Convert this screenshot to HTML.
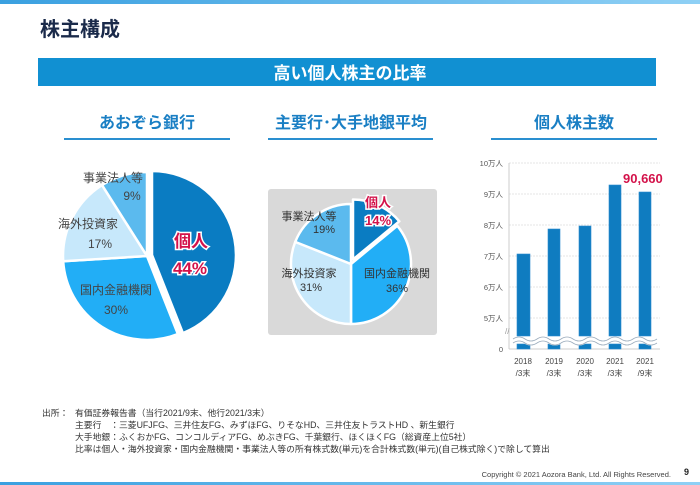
<!DOCTYPE html>
<html><head><meta charset="utf-8"><style>
body{margin:0;width:700px;height:485px;overflow:hidden;background:#fff}
svg{display:block}
text{font-family:"Liberation Sans","Noto Sans CJK JP",sans-serif}
</style></head><body>
<svg width="700" height="485" viewBox="0 0 700 485">
<defs><linearGradient id="tg" x1="0" x2="1"><stop offset="0" stop-color="#3aa0e0"/><stop offset="1" stop-color="#8fd0f5"/></linearGradient></defs>
<rect x="0" y="0" width="700" height="4" fill="url(#tg)"/>
<rect x="0" y="482" width="700" height="3" fill="url(#tg)"/>
<text x="40" y="36" font-size="20" font-weight="bold" fill="#1a2a4a">株主構成</text>
<rect x="38" y="58" width="618" height="28" fill="#1190d2"/>
<text x="350" y="79" font-size="17" font-weight="bold" fill="#fff" text-anchor="middle">高い個人株主の比率</text>
<g font-size="16" font-weight="bold" fill="#1a7fc4" text-anchor="middle">
<text x="147" y="128">あおぞら銀行</text><text x="351" y="128">主要行･大手地銀平均</text><text x="574" y="128">個人株主数</text></g>
<g fill="#2a8fd0"><rect x="64" y="138" width="166" height="2"/><rect x="268" y="138" width="165" height="2"/><rect x="491" y="138" width="166" height="2"/></g>
<!-- pie1 -->
<g stroke="#fff" stroke-width="2.5" stroke-linejoin="round">
<path d="M152,255 L152,171 A84,84 0 0 1 182.9,333.1 Z" fill="#0a7cc2"/>
<path d="M147,256 L177.9,334.1 A84,84 0 0 1 63.2,261.3 Z" fill="#22aef6"/>
<path d="M147,256 L63.2,261.3 A84,84 0 0 1 102,185.1 Z" fill="#c7e8fb"/>
<path d="M147,256 L102,185.1 A84,84 0 0 1 147,172 Z" fill="#5bbaee"/>
</g>
<g font-size="12" fill="#444" text-anchor="middle">
<text x="113" y="182">事業法人等</text><text x="132" y="200">9%</text>
<text x="88" y="228">海外投資家</text><text x="100" y="248">17%</text>
<text x="116" y="294">国内金融機関</text><text x="116" y="314">30%</text></g>
<g font-size="17" font-weight="bold" fill="#d3124a" stroke="#fff" stroke-width="3" paint-order="stroke" text-anchor="middle">
<text x="191" y="247">個人</text><text x="190" y="274">44%</text></g>
<!-- pie2 -->
<rect x="268" y="189" width="169" height="146" rx="3" fill="#d9d9d9"/>
<g stroke="#fff" stroke-width="2.5" stroke-linejoin="round">
<path d="M351,264 L397.3,225.8 A60,60 0 0 1 351,324 Z" fill="#22aef6"/>
<path d="M351,264 L351,324 A60,60 0 0 1 295.2,241.9 Z" fill="#c7e8fb"/>
<path d="M351,264 L295.2,241.9 A60,60 0 0 1 351,204 Z" fill="#5bbaee"/>
<path d="M353,259.5 L353,199.5 A60,60 0 0 1 399.3,221.3 Z" fill="#0a7cc2"/>
</g>
<g font-size="11" fill="#333" text-anchor="middle">
<text x="309" y="220">事業法人等</text><text x="324" y="233">19%</text>
<text x="309" y="277">海外投資家</text><text x="311" y="291">31%</text>
<text x="397" y="277">国内金融機関</text><text x="397" y="292">36%</text></g>
<g font-size="13" font-weight="bold" fill="#d3124a" stroke="#fff" stroke-width="3" paint-order="stroke" text-anchor="middle">
<text x="378" y="207">個人</text><text x="378" y="225">14%</text></g>
<!-- bar chart -->
<g stroke="#e4e4e4" stroke-width="1" stroke-dasharray="2,1">
<line x1="509" y1="163" x2="660" y2="163"/><line x1="509" y1="194" x2="660" y2="194"/><line x1="509" y1="225" x2="660" y2="225"/><line x1="509" y1="256" x2="660" y2="256"/><line x1="509" y1="287" x2="660" y2="287"/><line x1="509" y1="318" x2="660" y2="318"/></g>
<line x1="509" y1="163" x2="509" y2="349" stroke="#ccc"/>
<line x1="509" y1="349" x2="660" y2="349" stroke="#ccc"/>
<g font-size="7.5" fill="#555" text-anchor="end">
<text x="503" y="166">10万人</text><text x="503" y="197">9万人</text><text x="503" y="228">8万人</text><text x="503" y="259">7万人</text><text x="503" y="290">6万人</text><text x="503" y="321">5万人</text><text x="503" y="352">0</text></g>
<g fill="#0f7cc0" stroke="#2a8ad0" stroke-width="0.6">
<rect x="517" y="254" width="13" height="82"/><rect x="548" y="229" width="12" height="107"/><rect x="579" y="226" width="12" height="110"/><rect x="609" y="185" width="12" height="151"/><rect x="639" y="192" width="12" height="144"/>
<rect x="517" y="344" width="13" height="5"/><rect x="548" y="344" width="12" height="5"/><rect x="579" y="344" width="12" height="5"/><rect x="609" y="344" width="12" height="5"/><rect x="639" y="344" width="12" height="5"/></g>
<path d="M513,341 q6,-4 12,0 t12,0 t12,0 t12,0 t12,0 t12,0 t12,0 t12,0 t12,0 t12,0 t12,0 t12,0" fill="none" stroke="#fff" stroke-width="5"/>
<path d="M513,339 q6,-4 12,0 t12,0 t12,0 t12,0 t12,0 t12,0 t12,0 t12,0 t12,0 t12,0 t12,0 t12,0" fill="none" stroke="#9ab" stroke-width="0.8"/>
<path d="M513,343 q6,-4 12,0 t12,0 t12,0 t12,0 t12,0 t12,0 t12,0 t12,0 t12,0 t12,0 t12,0 t12,0" fill="none" stroke="#9ab" stroke-width="0.8"/>
<text x="505" y="334" font-size="8" fill="#999">//</text>
<text x="623" y="183" font-size="13" font-weight="bold" fill="#d3124a">90,660</text>
<g font-size="8" fill="#444" text-anchor="middle">
<text x="523" y="364">2018</text><text x="554" y="364">2019</text><text x="585" y="364">2020</text><text x="615" y="364">2021</text><text x="645" y="364">2021</text>
<text x="523" y="376">/3末</text><text x="554" y="376">/3末</text><text x="585" y="376">/3末</text><text x="615" y="376">/3末</text><text x="645" y="376">/9末</text></g>
<!-- footnote -->
<g font-size="8.8" fill="#333">
<text x="42" y="416">出所：</text><text x="75" y="416">有価証券報告書（当行2021/9末、他行2021/3末）</text>
<text x="75" y="428">主要行　：三菱UFJFG、三井住友FG、みずほFG、りそなHD、三井住友トラストHD 、新生銀行</text>
<text x="75" y="440">大手地銀：ふくおかFG、コンコルディアFG、めぶきFG、千葉銀行、ほくほくFG（総資産上位5社）</text>
<text x="75" y="452">比率は個人・海外投資家・国内金融機関・事業法人等の所有株式数(単元)を合計株式数(単元)(自己株式除く)で除して算出</text></g>
<text x="671" y="477" font-size="7.5" fill="#444" text-anchor="end">Copyright © 2021 Aozora Bank, Ltd. All Rights Reserved.</text>
<text x="684" y="475" font-size="9" font-weight="bold" fill="#222">9</text>
</svg>
</body></html>
